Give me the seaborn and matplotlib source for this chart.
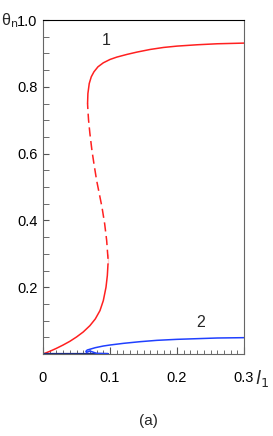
import numpy as np
import matplotlib.pyplot as plt
import seaborn as sns

# curve 1 (red): lower stable, unstable (dashed), upper stable branches
red_low_x = [0.0, 0.01, 0.02, 0.03, 0.04, 0.05, 0.06, 0.07, 0.078, 0.085, 0.09, 0.094, 0.096, 0.097]
red_low_y = [0.0, 0.008, 0.017, 0.027, 0.038, 0.051, 0.066, 0.085, 0.105, 0.13, 0.16, 0.2, 0.235, 0.27]
red_mid_x = [0.097, 0.097, 0.095, 0.092, 0.088, 0.084, 0.080, 0.076, 0.073, 0.070, 0.068, 0.067, 0.0665]
red_mid_y = [0.27, 0.30, 0.34, 0.39, 0.44, 0.48, 0.52, 0.57, 0.61, 0.66, 0.70, 0.73, 0.75]
red_up_x = [0.0665, 0.067, 0.069, 0.072, 0.076, 0.082, 0.09, 0.10, 0.11, 0.125, 0.14, 0.16,
            0.18, 0.2, 0.23, 0.26, 0.3]
red_up_y = [0.75, 0.78, 0.81, 0.83, 0.845, 0.86, 0.872, 0.882, 0.889, 0.897, 0.904, 0.912,
            0.918, 0.922, 0.926, 0.929, 0.931]

# curve 2 (blue)
blue_low_x = [0.0, 0.05, 0.097]
blue_low_y = [0.001, 0.001, 0.001]
blue_up_x = [0.097, 0.08, 0.07, 0.065, 0.064, 0.066, 0.07, 0.078, 0.09, 0.10, 0.12, 0.145,
             0.17, 0.2, 0.23, 0.26, 0.3]
blue_up_y = [0.001, 0.002, 0.003, 0.005, 0.008, 0.012, 0.015, 0.019, 0.024, 0.027, 0.032, 0.037,
             0.041, 0.044, 0.046, 0.048, 0.049]

sns.set_style("ticks")
plt.rcParams['font.family'] = ['Liberation Sans', 'DejaVu Sans']

fig = plt.figure(figsize=(2.73, 4.36), dpi=100)
ax = fig.add_axes([0.1575, 0.188, 0.7365, 0.766])

sns.lineplot(x=red_low_x, y=red_low_y, sort=False, color='#ff2020', lw=1.1, ax=ax)
sns.lineplot(x=red_mid_x, y=red_mid_y, sort=False, color='#ff2020', lw=1.1, ax=ax)
ax.lines[-1].set_dashes([6, 3])
sns.lineplot(x=red_up_x, y=red_up_y, sort=False, color='#ff2020', lw=1.1, ax=ax)
sns.lineplot(x=blue_low_x, y=blue_low_y, sort=False, color='#1a2a80', lw=1.6, ax=ax)
sns.lineplot(x=blue_up_x, y=blue_up_y, sort=False, color='#2040ff', lw=1.1, ax=ax)

ax.set_xlim(0, 0.3)
ax.set_ylim(0, 1.0)
ax.set_xticks([0, 0.1, 0.2, 0.3])
ax.set_xticklabels(['0', '0.1', '0.2', '0.3'])
ax.set_xticks(np.arange(0, 0.301, 0.01), minor=True)
ax.set_yticks([0.2, 0.4, 0.6, 0.8, 1.0])
ax.set_yticklabels(['0.2', '0.4', '0.6', '0.8', '1.0'])
ax.set_yticks(np.arange(0, 1.001, 0.05), minor=True)
ax.tick_params(axis='both', which='both', direction='in', labelsize=10.5, colors='#555555', labelcolor='black')
ax.tick_params(axis='x', which='major', length=5, pad=12)
ax.tick_params(axis='x', which='minor', length=3)
ax.tick_params(axis='y', which='major', length=4, pad=4)
ax.tick_params(axis='y', which='minor', length=4)
for side in ['left', 'bottom', 'right']:
    ax.spines[side].set_color('#666666')
ax.spines['top'].set_color('black')
ax.set_xlabel('')
ax.set_ylabel('')

fig.text(0.005, 0.953, 'θ$_{\\rm n}$', fontsize=11.5, ha='left', va='center')
fig.text(0.935, 0.133, '$l_1$', fontsize=13, ha='left', va='center')
ax.text(0.095, 0.94, '1', fontsize=11.5, ha='center', va='center')
ax.text(0.235, 0.095, '2', fontsize=11.5, ha='center', va='center')
fig.text(0.542, 0.035, '(a)', fontsize=11, ha='center', va='center')

fig.savefig('out.png', dpi=100)
